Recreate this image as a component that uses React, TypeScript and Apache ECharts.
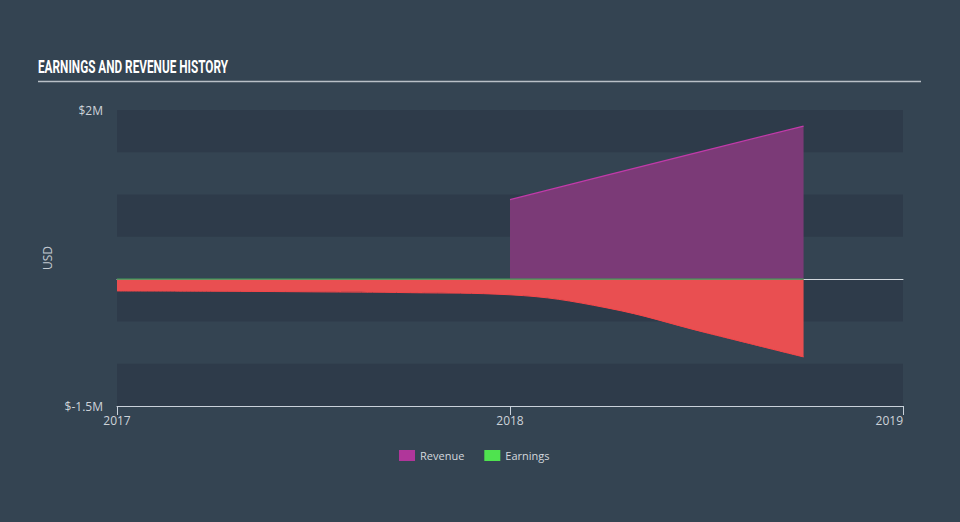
import React, { useEffect, useRef } from "react";
import * as echarts from "echarts";

// ---- data (values in USD, x as decimal years) ----
const revenueDates = [2018.0, 2018.247, 2018.496, 2018.747];
const revenueValues = [940000, 1230000, 1520000, 1810000];

const earningsDates = [2017.0, 2017.247, 2017.496, 2017.747, 2018.0, 2018.247, 2018.496, 2018.747];
const earningsValues = [-140000, -143000, -150000, -160000, -185000, -340000, -630000, -920000];
const earningsPositive = [0, 0, 0, 0, 0, 0, 0, 0];

const xTicks = [2017, 2018, 2019];
const yLabels: Record<string, string> = { "2000000": "$2M", "-1500000": "$-1.5M" };

const TITLE = "EARNINGS AND REVENUE HISTORY";

export default function App() {
  const ref = useRef<HTMLDivElement>(null);
  useEffect(() => {
    if (!ref.current) return;
    const chart = echarts.init(ref.current, null, { renderer: "svg" });
    const pair = (xs: number[], ys: number[]) => xs.map((x, i) => [x, ys[i]]);
    chart.setOption({
      animation: false,
      backgroundColor: "#344452",
      textStyle: { fontFamily: "Open Sans" },
      graphic: [
        {
          type: "text",
          x: 38,
          y: 57,
          scaleX: 0.62,
          style: {
            text: TITLE,
            fill: "#ffffff",
            fontFamily: "Roboto",
            fontWeight: "bold",
            fontSize: 19,
          },
        },
        {
          type: "line",
          shape: { x1: 38, y1: 81.5, x2: 921, y2: 81.5 },
          style: { stroke: "#b9c0c7", lineWidth: 1.5 },
        },
      ],
      grid: { left: 117, right: 57, top: 110, bottom: 116 },
      legend: {
        bottom: 56,
        left: 394,
        itemWidth: 16,
        itemHeight: 11,
        itemGap: 20,
        icon: "rect",
        textStyle: { color: "#d3d8dd", fontSize: 11, fontFamily: "Open Sans" },
        data: [
          { name: "Revenue", itemStyle: { color: "#b0369a" } },
          { name: "Earnings", itemStyle: { color: "#4fe34f" } },
        ],
      },
      xAxis: [
        {
          type: "value",
          min: xTicks[0],
          max: xTicks[xTicks.length - 1],
          interval: 1,
          splitLine: { show: false },
          axisLine: { show: true, onZero: false, lineStyle: { color: "#c9d1da", width: 1 } },
          axisTick: { show: true, length: 9, lineStyle: { color: "#c9d1da" } },
          axisLabel: {
            color: "#cdd3d9",
            fontSize: 12,
            margin: 8,
            alignMaxLabel: "right",
            formatter: (v: number) => String(v),
          },
        },
        {
          type: "value",
          min: xTicks[0],
          max: xTicks[xTicks.length - 1],
          interval: 1,
          position: "bottom",
          splitLine: { show: false },
          axisLine: { show: true, onZero: true, lineStyle: { color: "#d3d9de", width: 1 } },
          axisTick: { show: false },
          axisLabel: { show: false },
        },
      ],
      yAxis: {
        type: "value",
        min: -1500000,
        max: 2000000,
        interval: 500000,
        name: "USD",
        nameLocation: "middle",
        nameGap: 50,
        nameRotate: 90,
        nameTextStyle: { color: "#c3cad1", fontSize: 12 },
        axisLine: { show: false },
        axisTick: { show: false },
        splitLine: { show: false },
        splitArea: { show: true, areaStyle: { color: ["#2e3b4a", "rgba(0,0,0,0)"] } },
        axisLabel: {
          color: "#cdd3d9",
          fontSize: 12,
          margin: 14,
          formatter: (v: number) => yLabels[String(v)] ?? "",
        },
      },
      series: [
        {
          name: "Revenue",
          type: "line",
          z: 2,
          data: pair(revenueDates, revenueValues),
          showSymbol: false,
          lineStyle: { color: "#c13aa9", width: 1.2 },
          itemStyle: { color: "#b0369a" },
          areaStyle: { color: "#7b3a77", opacity: 1 },
        },
        {
          name: "Loss",
          type: "line",
          z: 3,
          smooth: 0.4,
          data: pair(earningsDates, earningsValues),
          showSymbol: false,
          lineStyle: { color: "#f5474a", width: 1 },
          areaStyle: { color: "#e94f51", opacity: 1 },
        },
        {
          name: "Earnings",
          type: "line",
          z: 4,
          data: pair(earningsDates, earningsPositive),
          showSymbol: false,
          lineStyle: { color: "#3f9e5a", width: 1.2 },
          itemStyle: { color: "#4fe34f" },
        },
      ],
    });
    return () => chart.dispose();
  }, []);
  return (
    <div
      ref={ref}
      style={{ position: "absolute", left: 0, top: 0, width: 960, height: 522 }}
    />
  );
}
